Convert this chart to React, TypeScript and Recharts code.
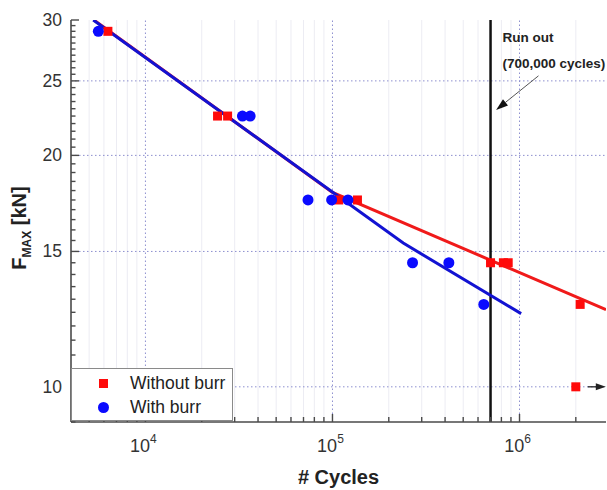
import React from 'react';
import { ComposedChart, Scatter, XAxis, YAxis, ReferenceLine, ReferenceDot, Legend } from 'recharts';

const FONT = '"Liberation Sans", Arial, Helvetica, sans-serif';
const RED = '#ff0a0a';
const BLUE = '#0a0aff';
const RED_LINE = '#f01a1a';
const BLUE_LINE = '#1212d2';
const AXIS = '#4a4a4a';
const GRID = '#8d8fcf';
const MINOR_GRID = '#ececf3';

// ---- data (cycles, F_MAX in kN) ----
const withoutBurr = [
  { x: 6300, y: 29.0 },
  { x: 24300, y: 22.5 },
  { x: 27500, y: 22.5 },
  { x: 108000, y: 17.5 },
  { x: 136000, y: 17.5 },
  { x: 700000, y: 14.5 },
  { x: 820000, y: 14.5 },
  { x: 870000, y: 14.5 },
  { x: 2110000, y: 12.8 },
];
const withoutBurrRunOut = [{ x: 2000000, y: 10 }];
const withBurr = [
  { x: 5600, y: 29.0 },
  { x: 33000, y: 22.5 },
  { x: 36300, y: 22.5 },
  { x: 74000, y: 17.5 },
  { x: 99000, y: 17.5 },
  { x: 121000, y: 17.5 },
  { x: 268000, y: 14.5 },
  { x: 419000, y: 14.5 },
  { x: 644000, y: 12.8 },
];
const fitWithoutBurr = [
  { x: 5300, y: 30 },
  { x: 100000, y: 17.9 },
  { x: 2900000, y: 12.6 },
];
const fitWithBurr = [
  { x: 5260, y: 30 },
  { x: 239000, y: 15.38 },
  { x: 1020000, y: 12.45 },
];
const runOutCycles = 700000;
const runOutLabel = { x: 811000, y: 28.07 };
const runOutSubLabel = { x: 811000, y: 25.99 };
const arrowTail = { x: 1263000, y: 25.38 };
const arrowTip = { x: 750000, y: 22.92 };

// ---- axes ----
const xDomain = [4000, 2900000];
const yDomain = [9, 30];
const xMajorTicks = [10000, 100000, 1000000];
const xMinorTicks = [
  5000, 6000, 7000, 8000, 9000,
  20000, 30000, 40000, 50000, 60000, 70000, 80000, 90000,
  200000, 300000, 400000, 500000, 600000, 700000, 800000, 900000,
  2000000,
];
const xAllTicks = [...xMinorTicks, ...xMajorTicks].sort((a, b) => a - b);
const yMajorTicks = [10, 15, 20, 25, 30];
const yMinorTicks = [
  9, 9.5, 10.5, 11, 11.5, 12, 12.5, 13, 13.5, 14, 14.5,
  15.5, 16, 16.5, 17, 17.5, 18, 18.5, 19, 19.5,
  20.5, 21, 21.5, 22, 22.5, 23, 23.5, 24, 24.5,
  25.5, 26, 26.5, 27, 27.5, 28, 28.5, 29, 29.5,
];
const yAllTicks = [...yMinorTicks, ...yMajorTicks].sort((a, b) => a - b);

const isXMajor = (v: number) => xMajorTicks.includes(v);
const isYMajor = (v: number) => yMajorTicks.includes(v);

const XBottomTick = (p: any) => {
  const { x, y, payload } = p;
  const major = isXMajor(payload.value);
  return (
    <g>
      <line x1={x} x2={x} y1={y} y2={y - (major ? 8 : 5)} stroke={AXIS} strokeWidth={1.4} />
      {major && (
        <text x={x - 2} y={y + 30} textAnchor="middle" fontSize={18} fill="#333" fontFamily={FONT}>
          10
          <tspan dy={-9} fontSize={12}>{String(Math.round(Math.log10(payload.value)))}</tspan>
        </text>
      )}
    </g>
  );
};

const XTopTick = (p: any) => {
  const { x, y, payload } = p;
  const major = isXMajor(payload.value);
  return <line x1={x} x2={x} y1={y} y2={y + (major ? 8 : 5)} stroke={AXIS} strokeWidth={1.4} />;
};

const YLeftTick = (p: any) => {
  const { x, y, payload } = p;
  const major = isYMajor(payload.value);
  return (
    <g>
      <line x1={x} x2={x + (major ? 8 : 4.5)} y1={y} y2={y} stroke={AXIS} strokeWidth={1.4} />
      {major && (
        <text x={x - 9} y={y + 6} textAnchor="end" fontSize={17.5} fill="#333" fontFamily={FONT}>
          {String(payload.value)}
        </text>
      )}
    </g>
  );
};

const YRightTick = (p: any) => {
  const { x, y, payload } = p;
  const major = isYMajor(payload.value);
  return <line x1={x} x2={x - (major ? 8 : 4.5)} y1={y} y2={y} stroke={AXIS} strokeWidth={1.4} />;
};

const SquareShape = (p: any) => (
  <rect x={p.cx - 4.5} y={p.cy - 4.5} width={9} height={9} fill={RED} />
);
const CircleShape = (p: any) => <circle cx={p.cx} cy={p.cy} r={5.5} fill={BLUE} />;
const RunOutShape = (p: any) => (
  <g>
    <rect x={p.cx - 4.5} y={p.cy - 4.5} width={9} height={9} fill={RED} />
    <line x1={p.cx + 12} x2={p.cx + 23} y1={p.cy} y2={p.cy} stroke="#222" strokeWidth={1.3} />
    <polygon points={`${p.cx + 30},${p.cy} ${p.cx + 20},${p.cy - 3.5} ${p.cx + 20},${p.cy + 3.5}`} fill="#222" />
  </g>
);
const NoShape = () => <g />;

const ArrowShape = (p: any) => {
  const { x1, y1, x2, y2 } = p;
  const ang = Math.atan2(y2 - y1, x2 - x1);
  const L = 12;
  const W = 4;
  const bx = x2 - L * Math.cos(ang);
  const by = y2 - L * Math.sin(ang);
  const px = -Math.sin(ang) * W;
  const py = Math.cos(ang) * W;
  return (
    <g>
      <line x1={x1} y1={y1} x2={bx} y2={by} stroke="#555" strokeWidth={1} />
      <polygon points={`${x2},${y2} ${bx + px},${by + py} ${bx - px},${by - py}`} fill="#111" />
    </g>
  );
};

const TextShape = (text: string) => (p: any) => (
  <text x={p.cx} y={p.cy} fontSize={13.5} fontWeight="bold" fill="#222" fontFamily={FONT}>
    {text}
  </text>
);

const LegendBox = () => (
  <div
    style={{
      position: 'relative',
      width: 162,
      height: 53,
      boxSizing: 'border-box',
      border: '1px solid #8a8a8a',
      background: '#fff',
      fontFamily: FONT,
      fontSize: 17.5,
      color: '#222',
    }}
  >
    <div style={{ position: 'absolute', left: 27, top: 10, width: 9, height: 9, background: RED }} />
    <div style={{ position: 'absolute', left: 58, top: 4, lineHeight: '20px', whiteSpace: 'nowrap' }}>Without burr</div>
    <div style={{ position: 'absolute', left: 26, top: 33, width: 11, height: 11, borderRadius: '50%', background: BLUE }} />
    <div style={{ position: 'absolute', left: 58, top: 28, lineHeight: '20px', whiteSpace: 'nowrap' }}>With burr</div>
  </div>
);

const YTitle = (p: any) => {
  const vb = p.viewBox || { x: 0, y: 20, width: 71, height: 402 };
  const cx = vb.x + 26;
  const cy = vb.y + vb.height / 2 + 7;
  return (
    <text transform={`translate(${cx},${cy}) rotate(-90)`} textAnchor="middle" fontSize={20} fontWeight="bold" fill="#222" fontFamily={FONT}>
      F
      <tspan dy={5} fontSize={12}>MAX</tspan>
      <tspan dy={-5}> [kN]</tspan>
    </text>
  );
};

const XTitle = (p: any) => {
  const vb = p.viewBox || { x: 71, y: 422, width: 535, height: 68 };
  return (
    <text x={vb.x + vb.width / 2} y={vb.y + 62} textAnchor="middle" fontSize={20} fontWeight="bold" fill="#222" fontFamily={FONT}>
      # Cycles
    </text>
  );
};

export default function App() {
  return (
    <div style={{ position: 'absolute', left: 0, top: 0, width: 607, height: 490, background: '#fff' }}>
      <ComposedChart width={607} height={490} margin={{ top: 20, right: 1, bottom: 0, left: 0 }}>
        <XAxis
          xAxisId="main"
          dataKey="x"
          type="number"
          scale="log"
          domain={xDomain}
          allowDataOverflow
          ticks={xAllTicks}
          interval={0}
          tickSize={0}
          tickMargin={0}
          height={68}
          tick={XBottomTick}
          axisLine={{ stroke: AXIS, strokeWidth: 1.6 }}
          tickLine={false}
          label={{ content: XTitle }}
        />
        <XAxis
          xAxisId="top"
          orientation="top"
          dataKey="x"
          type="number"
          scale="log"
          domain={xDomain}
          allowDataOverflow
          ticks={xAllTicks}
          interval={0}
          tickSize={0}
          tickMargin={0}
          height={0}
          tick={XTopTick}
          axisLine={{ stroke: AXIS, strokeWidth: 1.6 }}
          tickLine={false}
        />
        <YAxis
          yAxisId="main"
          dataKey="y"
          type="number"
          scale="log"
          domain={yDomain}
          allowDataOverflow
          ticks={yAllTicks}
          interval={0}
          tickSize={0}
          tickMargin={0}
          width={71}
          tick={YLeftTick}
          axisLine={{ stroke: AXIS, strokeWidth: 1.6 }}
          tickLine={false}
          label={{ content: YTitle }}
        />
        <YAxis
          yAxisId="right"
          orientation="right"
          dataKey="y"
          type="number"
          scale="log"
          domain={yDomain}
          allowDataOverflow
          ticks={yAllTicks}
          interval={0}
          tickSize={0}
          tickMargin={0}
          width={0}
          tick={YRightTick}
          axisLine={{ stroke: AXIS, strokeWidth: 1.6 }}
          tickLine={false}
        />

        {xMinorTicks.map((v) => (
          <ReferenceLine key={`mx${v}`} xAxisId="main" yAxisId="main" x={v} stroke={MINOR_GRID} strokeWidth={1} />
        ))}
        {xMajorTicks.map((v) => (
          <ReferenceLine key={`gx${v}`} xAxisId="main" yAxisId="main" x={v} stroke={GRID} strokeWidth={1} strokeDasharray="1.5 2.5" />
        ))}
        {yMajorTicks.filter((v) => v < 30).map((v) => (
          <ReferenceLine key={`gy${v}`} xAxisId="main" yAxisId="main" y={v} stroke={GRID} strokeWidth={1} strokeDasharray="1.5 2.5" />
        ))}

        <Scatter
          name="fitWithout"
          data={fitWithoutBurr}
          xAxisId="main"
          yAxisId="main"
          line={{ stroke: RED_LINE, strokeWidth: 3 }}
          shape={NoShape}
          legendType="none"
          isAnimationActive={false}
        />
        <Scatter
          name="fitWith"
          data={fitWithBurr}
          xAxisId="main"
          yAxisId="main"
          line={{ stroke: BLUE_LINE, strokeWidth: 3 }}
          shape={NoShape}
          legendType="none"
          isAnimationActive={false}
        />
        <Scatter name="Without burr" data={withoutBurr} xAxisId="main" yAxisId="main" shape={SquareShape} isAnimationActive={false} />
        <Scatter name="Without burr run out" data={withoutBurrRunOut} xAxisId="main" yAxisId="main" shape={RunOutShape} legendType="none" isAnimationActive={false} />
        <Scatter name="With burr" data={withBurr} xAxisId="main" yAxisId="main" shape={CircleShape} isAnimationActive={false} />

        <ReferenceLine xAxisId="main" yAxisId="main" x={runOutCycles} stroke="#111" strokeWidth={2.5} />
        <ReferenceLine
          xAxisId="main"
          yAxisId="main"
          segment={[arrowTail, arrowTip]}
          shape={ArrowShape}
        />
        <ReferenceDot xAxisId="main" yAxisId="main" x={runOutLabel.x} y={runOutLabel.y} r={0} shape={TextShape('Run out')} />
        <ReferenceDot xAxisId="main" yAxisId="main" x={runOutSubLabel.x} y={runOutSubLabel.y} r={0} shape={TextShape('(700,000 cycles)')} />

        <Legend
          layout="vertical"
          align="center"
          verticalAlign="middle"
          content={LegendBox}
          wrapperStyle={{ left: 71, top: 368, width: 162, height: 53 }}
        />
      </ComposedChart>
    </div>
  );
}
